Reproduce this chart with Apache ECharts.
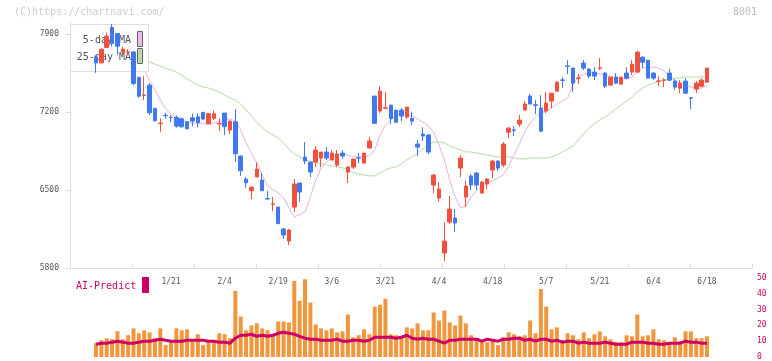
<!DOCTYPE html>
<html><head><meta charset="utf-8">
<script src="https://cdn.jsdelivr.net/npm/echarts/dist/echarts.min.js"></script>
<style>html,body{margin:0;padding:0;background:#fff}#c{width:772px;height:361px}</style>
</head><body><div id="c"></div>
<script>
const dates = ['12/25','12/26','12/27','12/30',
'1/6','1/7','1/8','1/9','1/10','1/14','1/15','1/16','1/17','1/20','1/21','1/22','1/23','1/24','1/27','1/28','1/29','1/30','1/31',
'2/3','2/4','2/5','2/6','2/7','2/10','2/12','2/13','2/14','2/17','2/18','2/19','2/20','2/21','2/25','2/26','2/27','2/28',
'3/3','3/4','3/5','3/6','3/7','3/10','3/11','3/12','3/13','3/14','3/17','3/18','3/19','3/21','3/24','3/25','3/26','3/27','3/28','3/31',
'4/1','4/2','4/3','4/4','4/7','4/8','4/9','4/10','4/11','4/14','4/15','4/16','4/17','4/18','4/21','4/22','4/23','4/24','4/25','4/28','4/30',
'5/1','5/2','5/7','5/8','5/9','5/12','5/13','5/14','5/15','5/16','5/19','5/20','5/21','5/22','5/23','5/26','5/27','5/28','5/29','5/30',
'6/2','6/3','6/4','6/5','6/6','6/9','6/10','6/11','6/12','6/13','6/16','6/17','6/18'];

const opens = [7696,7642,7781,7960,7906,7741,7738,7740,7511,7350,
7442,7233,7097,7172,7154,7152,7140,7113,7149,7158,
7198,7095,7145,7093,7191,7039,7113,6805,6598,6494,
6617,6590,6424,6372,6347,6150,6042,6347,6563,6796,
6751,6751,6787,6841,6769,6724,6832,6662,6706,6789,
6742,6877,7344,7209,7234,7263,7218,7218,7155,7143,
6913,7003,6994,6545,6428,5935,6213,6249,6697,6437,
6626,6653,6473,6554,6680,6760,6724,7020,7040,7092,
7218,7344,7265,7236,7209,7299,7388,7489,7615,7595,
7503,7640,7586,7559,7593,7550,7442,7514,7451,7550,
7559,7559,7693,7666,7550,7476,7485,7550,7478,7415,
7478,7328,7406,7433,7469];
const closes = [7642,7765,7882,7816,7792,7765,7742,7457,7343,7354,
7194,7122,7101,7168,7150,7074,7068,7050,7119,7104,
7137,7185,7185,7097,7068,7119,6826,6674,6565,6526,
6688,6494,6420,6376,6198,6096,6141,6554,6482,6760,
6662,6859,6841,6787,6832,6823,6805,6706,6778,6785,
6832,6940,7099,7388,7238,7143,7108,7164,7245,7119,
6886,6985,6841,6635,6509,6042,6329,6204,6787,6536,
6545,6545,6572,6599,6760,6697,6913,7056,7036,7128,
7272,7272,7261,7029,7281,7370,7469,7485,7611,7460,
7507,7595,7523,7523,7597,7433,7514,7460,7514,7505,
7630,7738,7648,7505,7505,7480,7489,7487,7424,7460,
7370,7324,7460,7487,7595];
const lows = [7553,7642,7781,7788,7711,7711,7711,7440,7330,7308,
7173,7115,7023,7143,7108,7060,7060,7045,7074,7062,
7130,7090,7130,7030,6994,7003,6754,6628,6520,6419,
6617,6494,6410,6311,6195,6060,6006,6302,6392,6733,
6617,6706,6706,6769,6769,6706,6778,6563,6688,6742,
6742,6877,7099,7191,7227,7090,7108,7119,7140,7083,
6805,6940,6823,6473,6392,5863,6195,6123,6617,6347,
6500,6500,6473,6509,6608,6670,6706,6967,6985,7065,
7218,7272,7182,7020,7191,7236,7388,7415,7541,7379,
7451,7577,7505,7487,7577,7415,7442,7451,7451,7496,
7532,7559,7595,7505,7487,7433,7424,7478,7397,7370,
7361,7227,7370,7424,7460];
const highs = [7711,7770,7915,7990,7910,7786,7765,7750,7520,7523,
7460,7240,7143,7194,7173,7170,7145,7120,7188,7188,
7200,7190,7215,7143,7191,7122,7226,6810,6617,6530,
6749,6652,6490,6437,6350,6159,6150,6599,6563,6931,
6751,6895,6841,6886,6859,6859,6859,6715,6778,6832,
6832,6976,7344,7433,7379,7263,7218,7236,7245,7200,
6949,7065,7003,6644,6572,6213,6446,6329,6814,6581,
6644,6662,6581,6608,6769,6769,6931,7065,7074,7173,
7299,7362,7308,7352,7379,7370,7478,7514,7666,7595,
7541,7666,7595,7604,7684,7559,7514,7550,7514,7604,
7666,7747,7702,7666,7559,7523,7505,7586,7496,7487,
7505,7335,7478,7505,7595];

const ma5 = [7760,7740,7750,7780,7810,7820,7800,7760,7700,7580,
7484,7394,7308,7228,7183,7156,7130,7112,7103,7103,
7094,7094,7103,7112,7130,7138,7120,7040,6923,6834,
6744,6637,6538,6502,6475,6430,6341,6260,6278,6305,
6439,6591,6699,6753,6789,6815,6824,6815,6798,6798,
6798,6807,6860,6995,7084,7129,7174,7183,7183,7165,
7138,7111,7075,7022,6905,6771,6591,6439,6340,6358,
6439,6493,6529,6564,6582,6609,6636,6717,6815,6914,
7022,7102,7156,7192,7210,7237,7272,7299,7326,7452,
7515,7541,7550,7550,7541,7532,7523,7506,7497,7497,
7515,7559,7595,7604,7604,7595,7568,7523,7487,7461,
7443,7425,7416,7416,7443];
const ma25 = [7730,7725,7722,7720,7715,7710,7700,7690,7680,7667,
7649,7631,7613,7595,7577,7559,7532,7496,7470,7443,
7425,7416,7398,7380,7353,7326,7308,7272,7219,7165,
7111,7066,7021,6995,6968,6923,6869,6824,6798,6771,
6762,6753,6735,6726,6717,6708,6699,6681,6654,6645,
6636,6627,6627,6654,6681,6699,6708,6735,6771,6798,
6833,6869,6905,6931,6931,6922,6896,6878,6860,6842,
6842,6833,6824,6815,6806,6797,6797,6797,6788,6779,
6779,6788,6788,6788,6788,6797,6815,6842,6869,6896,
6949,7003,7057,7093,7129,7156,7192,7228,7264,7300,
7335,7380,7416,7443,7461,7479,7488,7497,7506,7506,
7515,7515,7515,7515,7515];

const volume = [8.75,10.6,11.9,11.3,16.3,11.3,13.8,18.1,15,16.9,
15.6,11.9,18.1,7.5,9.4,18.1,16.9,17.5,10,14.4,
7.5,10.6,10.6,15,14.4,11.9,41.9,25.6,16.9,20,
21.3,18.1,16.9,13.75,22.5,22.5,21.9,48.2,35.6,49.2,
34.4,20.6,18.1,16.9,18.1,15.6,16.25,26.9,12.5,13.75,
17.5,14.4,31.9,33.1,36.9,14.4,13.75,12.5,18.75,18.1,
21.25,16.9,16.9,28.1,23.1,29.4,21.9,20,26.25,21.25,
13.75,11.9,10,9.4,10,7.5,12.5,15.6,14.4,13.1,
13.75,23.1,15,43.1,31.9,17.5,18.75,10.6,15,13.75,
11.25,15.6,11.9,14.4,16.25,13.1,11.25,9.4,9.4,13.75,
13.1,26.9,13.1,13.75,17.5,11.25,10.6,8.75,12.5,10,
16.25,16.25,11.9,11.9,13.1];
const predict = [8.1,8.75,8.75,9.4,10,9.4,8.75,8.75,9.4,10,
10,10.6,11.25,10.6,10,10,10,10.6,10.6,10.6,
10.6,10,10,9.4,9.4,8.75,11.9,13.75,13.75,14.4,
13.1,13.75,13.1,13.75,15,15.6,15,14.4,13.1,11.9,
11.25,11.25,10.6,10.6,10.6,11.25,10,10,10.6,10.6,
10,10.6,12.5,12.5,12.5,12.5,11.9,12.5,13.75,11.9,
11.25,11.9,11.25,11.25,10,8.75,10.6,10.6,11.25,11.25,
11.25,11.25,10,11.25,10.6,10,11.25,11.25,11.9,11.9,
10.6,11.25,10,11.25,11.25,10,10.6,9.4,10,10,
8.75,9.4,8.75,8.75,8.75,9.4,8.75,8.1,8.1,8.1,
9.4,9.4,9.4,8.75,8.75,8.1,8.1,8.75,8.75,8.75,
10,9.4,9.4,8.75,8.75];

const priceTicks = [5800, 6500, 7200, 7900];
const dateLabelIdx = [14, 24, 34, 44, 54, 64, 74, 84, 94, 104, 114];
const volumeTicks = [0, 10, 20, 30, 40, 50];

const MONO = 'DejaVu Sans Mono';
const X_MIN = -4.85, X_MAX = 122.4;

const chart = echarts.init(document.getElementById('c'), null, {renderer: 'canvas'});
const idx = (arr) => arr.map((v, i) => [i, v]);

chart.setOption({
  animation: false,
  backgroundColor: '#fff',
  grid: [
    {left: 70, right: 20, top: 23, bottom: 93},
    {left: 70, right: 20, top: 278, bottom: 3}
  ],
  xAxis: [
    {type: 'value', gridIndex: 0, position: 'bottom', min: X_MIN, max: X_MAX,
     axisLine: {show: false, onZero: false}, axisTick: {show: false}, splitLine: {show: false},
     axisLabel: {customValues: dateLabelIdx, formatter: v => dates[Math.round(v)],
       color: '#555', fontFamily: MONO, fontSize: 8, margin: 10}},
    {type: 'value', gridIndex: 0, position: 'bottom', min: 0, max: 11, interval: 1,
     axisLine: {show: true, onZero: false, lineStyle: {color: '#ddd'}},
     axisTick: {show: true, inside: true, length: 4, lineStyle: {color: '#ddd'}},
     axisLabel: {show: false}, splitLine: {show: false}},
    {type: 'value', gridIndex: 1, position: 'bottom', min: X_MIN, max: X_MAX, show: false,
     axisLine: {onZero: false}}
  ],
  yAxis: [
    {type: 'value', gridIndex: 0, position: 'left', min: 5800, max: 8000,
     axisLine: {show: true, onZero: false, lineStyle: {color: '#ddd'}},
     axisTick: {show: true, length: 5, customValues: priceTicks, lineStyle: {color: '#ddd'}},
     axisLabel: {customValues: priceTicks, formatter: v => String(v), color: '#555', fontFamily: MONO, fontSize: 8, margin: 11},
     splitLine: {show: false}},
    {type: 'value', gridIndex: 1, min: 0, max: 50, position: 'right',
     axisLine: {show: false, onZero: false}, axisTick: {show: false}, splitLine: {show: false},
     axisLabel: {customValues: volumeTicks, formatter: v => String(v), color: '#cc0066', fontFamily: MONO, fontSize: 8, margin: 5}}
  ],
  series: [
    {type: 'line', xAxisIndex: 0, yAxisIndex: 0, data: idx(ma25), showSymbol: false, z: 1,
     lineStyle: {color: '#b4dca4', width: 1}},
    {type: 'line', xAxisIndex: 0, yAxisIndex: 0, data: idx(ma5), showSymbol: false, z: 1,
     lineStyle: {color: '#e8b0e8', width: 1}},
    {type: 'candlestick', xAxisIndex: 0, yAxisIndex: 0, z: 5, barWidth: 4,
     data: opens.map((o, i) => [i, o, closes[i], lows[i], highs[i]]),
     itemStyle: {color: '#f0503c', color0: '#4078f0', borderColor: '#f0503c', borderColor0: '#4078f0', borderWidth: 1}},
    {type: 'bar', xAxisIndex: 2, yAxisIndex: 1, data: idx(volume), barWidth: 4,
     itemStyle: {color: '#f0963c'}},
    {type: 'line', xAxisIndex: 2, yAxisIndex: 1, data: idx(predict), showSymbol: false,
     lineStyle: {color: '#cc0066', width: 3}}
  ],
  graphic: [
    {type: 'text', x: 14, y: 12, z: 3, style: {text: '(C)https://chartnavi.com/', fill: '#ccc', font: '10px ' + MONO, verticalAlign: 'middle'}},
    {type: 'text', x: 757, y: 12, z: 3, style: {text: '8001', fill: '#bbb', font: '10px ' + MONO, align: 'right', verticalAlign: 'middle'}},
    {type: 'rect', z: 3, shape: {x: 70.5, y: 24.5, width: 78, height: 47}, style: {fill: '#fff', stroke: '#ddd', lineWidth: 1}},
    {type: 'text', x: 131, y: 40, z: 4, style: {text: '5-day MA', fill: '#555', font: '10px ' + MONO, align: 'right', verticalAlign: 'middle'}},
    {type: 'text', x: 131, y: 57, z: 4, style: {text: '25-day MA', fill: '#555', font: '10px ' + MONO, align: 'right', verticalAlign: 'middle'}},
    {type: 'rect', z: 4, shape: {x: 137.5, y: 31.5, width: 5, height: 15}, style: {fill: '#eab8ea', stroke: '#666', lineWidth: 1}},
    {type: 'rect', z: 4, shape: {x: 137.5, y: 48.5, width: 5, height: 15}, style: {fill: '#b8dca8', stroke: '#666', lineWidth: 1}},
    {type: 'text', x: 76, y: 286, z: 3, style: {text: 'AI-Predict', fill: '#cc0066', font: '10px ' + MONO, verticalAlign: 'middle'}},
    {type: 'rect', z: 3, shape: {x: 142, y: 277, width: 7, height: 16}, style: {fill: '#cc0066'}}
  ]
});
</script>
</body></html>
